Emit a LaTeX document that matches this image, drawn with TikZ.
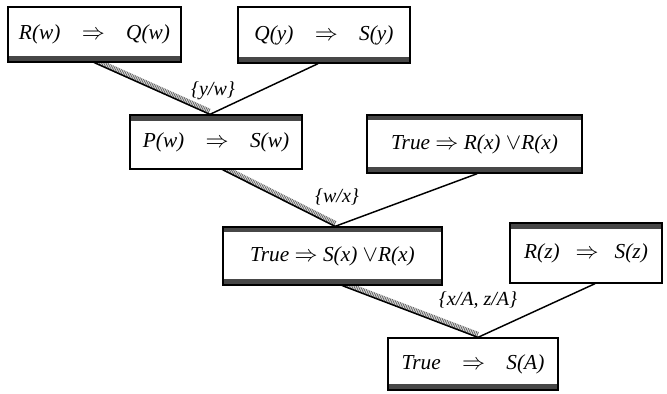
\documentclass[tikz,border=0pt]{standalone}
\usepackage{fontspec}
\setmainfont{Liberation Serif}
\usetikzlibrary{calc,backgrounds}
\definecolor{bandgray}{gray}{0.28}
\definecolor{hatchgray}{gray}{0.42}

\tikzset{
  clause/.style={draw=black, line width=1pt, fill=white, inner sep=0pt,
    font=\fontsize{16}{18}\selectfont\itshape},
  bandlow/.style={path picture={
    \fill[bandgray] ([yshift=4.5pt]path picture bounding box.south west)
      rectangle (path picture bounding box.south east);}},
  bandhigh/.style={path picture={
    \fill[bandgray] ([yshift=-4.5pt]path picture bounding box.north west)
      rectangle (path picture bounding box.north east);}},
  bandboth/.style={path picture={
    \fill[bandgray] ([yshift=4.5pt]path picture bounding box.south west)
      rectangle (path picture bounding box.south east);
    \fill[bandgray] ([yshift=-4pt]path picture bounding box.north west)
      rectangle (path picture bounding box.north east);}},
  link/.style={draw=black, line width=1.1pt},
  hatch/.style={draw=hatchgray, line width=4.5pt, dash pattern=on 0.7pt off 0.6pt,
    transform canvas={yshift=1.8pt}},
  subst/.style={font=\fontsize{15}{17}\selectfont\itshape, inner sep=0pt}
}

\begin{document}
\begin{tikzpicture}[x=0.75pt,y=-0.75pt]
\useasboundingbox (0,0) rectangle (667,393);

% clauses
\node[clause, bandlow, minimum width=129.75pt, minimum height=41.25pt] (c1) at (94.5,34.5)
  {R(w)\quad$\Rightarrow$\quad Q(w)};
\node[clause, bandlow, minimum width=129pt, minimum height=42pt] (c2) at (324,35)
  {Q(y)\quad$\Rightarrow$\quad S(y)};
\node[clause, bandhigh, minimum width=129pt, minimum height=40.5pt] (c3) at (216,142)
  {P(w)\quad$\Rightarrow$\quad S(w)};
\node[clause, bandboth, minimum width=161.25pt, minimum height=43.5pt] (c4) at (474.5,144)
  {True $\Rightarrow$ R(x) $\vee$R(x)};
\node[clause, bandboth, minimum width=164.25pt, minimum height=43.5pt] (c5) at (332.5,256)
  {True $\Rightarrow$ S(x) $\vee$R(x)};
\node[clause, bandhigh, minimum width=114pt, minimum height=45pt] (c6) at (586,253)
  {R(z)\enspace\ $\Rightarrow$\enspace\ S(z)};
\node[clause, bandlow, minimum width=127.5pt, minimum height=39pt] (c7) at (473,364)
  {True\quad$\Rightarrow$\quad S(A)};

% unifiers
\node[subst] (u1) at (213,91) {\{y/w\}};
\node[subst] (u2) at (337,197) {\{w/x\}};
\node[subst] (u3) at (478,300) {\{x/A, z/A\}};

% resolution steps
\begin{scope}[on background layer]
  \draw[hatch] (c1.south) -- ([xshift=-4.5pt]c3.north);
  \draw[link]  (c1.south) -- ([xshift=-4.5pt]c3.north);
  \draw[link]  ([xshift=-4.5pt]c2.south) -- ([xshift=-4.5pt]c3.north);

  \draw[hatch] ([xshift=5pt]c3.south) -- ([xshift=2pt]c5.north);
  \draw[link]  ([xshift=5pt]c3.south) -- ([xshift=2pt]c5.north);
  \draw[link]  ([xshift=2pt]c4.south) -- ([xshift=2pt]c5.north);

  \draw[hatch] ([xshift=7.5pt]c5.south) -- ([xshift=3.75pt]c7.north);
  \draw[link]  ([xshift=7.5pt]c5.south) -- ([xshift=3.75pt]c7.north);
  \draw[link]  ([xshift=6.75pt]c6.south) -- ([xshift=3.75pt]c7.north);
\end{scope}
\end{tikzpicture}
\end{document}
